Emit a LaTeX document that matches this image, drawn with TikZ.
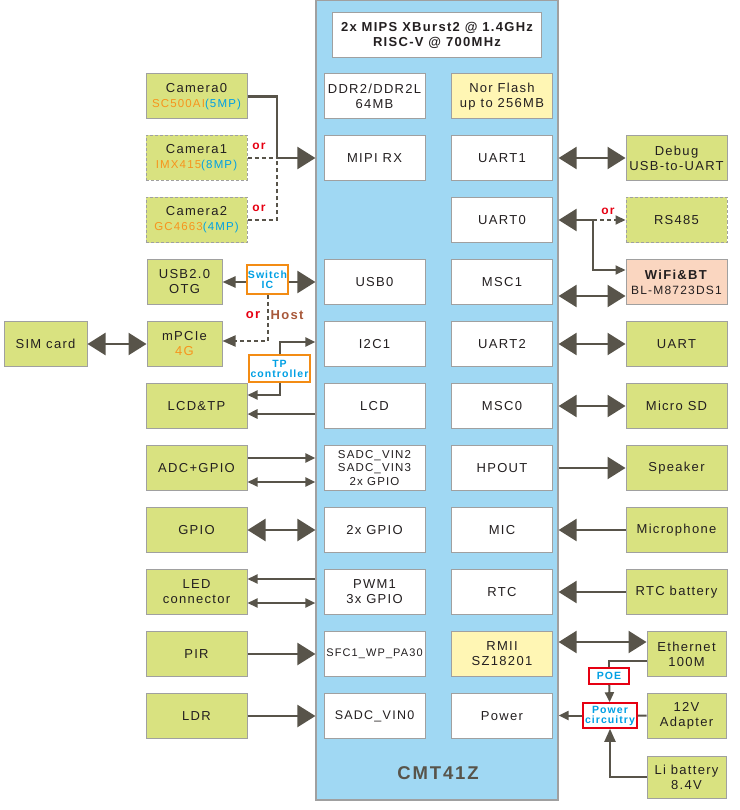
\documentclass[tikz,border=0pt]{standalone}
\usepackage{fontspec}
\setmainfont{Liberation Sans}[LetterSpace=10]
\usetikzlibrary{arrows.meta}

\definecolor{socblue}{RGB}{160,216,243}
\definecolor{boxgreen}{RGB}{217,226,128}
\definecolor{boxline}{RGB}{160,160,160}
\definecolor{flashyellow}{RGB}{255,246,180}
\definecolor{wifipeach}{RGB}{250,214,192}
\definecolor{wireg}{RGB}{88,84,74}
\definecolor{txtdark}{RGB}{35,31,32}
\definecolor{txtorange}{RGB}{247,148,29}
\definecolor{txtblue}{RGB}{0,160,228}
\definecolor{orred}{RGB}{230,0,18}
\definecolor{hostbrown}{RGB}{168,88,58}
\definecolor{tagorange}{RGB}{243,140,20}

\newcommand{\sensor}[2]{{\fontsize{11.5}{14}\selectfont\color{txtorange}#1\color{txtblue}(#2)}}

\tikzset{
  Fat/.tip={Triangle[length=18pt,width=22pt]},
  Mid/.tip={Triangle[length=13pt,width=11pt]},
  Slim/.tip={Triangle[length=10pt,width=9pt]},
  soc/.style={draw=boxline, line width=1.2, fill=socblue, minimum width=242, minimum height=800, inner sep=0},
  block/.style={draw=boxline, line width=1, fill=white, text=txtdark, minimum width=101, minimum height=45, inner sep=0, align=center},
  periph/.style={block, fill=boxgreen},
  maybe/.style={periph, dash pattern=on 3pt off 2pt},
  tagbox/.style={draw=tagorange, line width=1.6, fill=white, text=txtblue, inner sep=0, align=center, font=\fontsize{10.5}{10}\selectfont\bfseries},
  redbox/.style={tagbox, draw=orred},
  orlabel/.style={text=orred, font=\fontsize{12}{12}\selectfont\bfseries},
  wire/.style={draw=wireg, line width=2.4},
  wiretwo/.style={draw=wireg, line width=2},
  dashline/.style={draw=wireg, line width=2, dash pattern=on 4pt off 3pt}
}

\begin{document}
\begin{tikzpicture}[x=1pt, y=-1pt, font=\fontsize{13}{15}\selectfont]
    \useasboundingbox (0,0) rectangle (739,810);

    % SoC
    \node[soc] (cpu) at (437,400) {};
    \node[block, minimum width=209, font=\fontsize{13}{15}\selectfont\bfseries] (cores) at (437,35.5) {2x MIPS XBurst2 @ 1.4GHz\\RISC-V @ 700MHz};
    \node[block] (ddr) at (374.5,96.5) {DDR2/DDR2L\\64MB};
    \node[block, fill=flashyellow] (nor) at (502,96.5) {Nor Flash\\up to 256MB};
    \node[block] (mipi) at (374.5,158) {MIPI RX};
    \node[block] (uart1) at (502,158) {UART1};
    \node[block] (uart0) at (502,220) {UART0};
    \node[block] (usb0) at (374.5,282) {USB0};
    \node[block] (msc1) at (502,282) {MSC1};
    \node[block] (i2c1) at (374.5,344) {I2C1};
    \node[block] (uart2) at (502,344) {UART2};
    \node[block] (lcd) at (374.5,406) {LCD};
    \node[block] (msc0) at (502,406) {MSC0};
    \node[block, font=\fontsize{11.5}{13.5}\selectfont] (sadc) at (374.5,468) {SADC\_VIN2\\SADC\_VIN3\\2x GPIO};
    \node[block] (hpout) at (502,468) {HPOUT};
    \node[block] (gpiotwo) at (374.5,530) {2x GPIO};
    \node[block] (mic) at (502,530) {MIC};
    \node[block] (pwm) at (374.5,592) {PWM1\\3x GPIO};
    \node[block] (rtc) at (502,592) {RTC};
    \node[block, font=\fontsize{11}{13}\selectfont] (sfc) at (374.5,654) {SFC1\_WP\_PA30};
    \node[block, fill=flashyellow] (rmii) at (502,654) {RMII\\SZ18201};
    \node[block, font=\fontsize{12.5}{15}\selectfont] (vin0) at (374.5,716) {SADC\_VIN0};
    \node[block] (power) at (502,716) {Power};
    \node[text=wireg, font=\fontsize{18.5}{20}\selectfont\bfseries] (chipname) at (438,773) {CMT41Z};

    % Left side
    \node[periph] (cam0) at (196.5,96.5) {Camera0\\\sensor{SC500AI}{5MP}};
    \node[maybe] (cam1) at (196.5,158) {Camera1\\\sensor{IMX415}{8MP}};
    \node[maybe] (cam2) at (196.5,220) {Camera2\\\sensor{GC4663}{4MP}};
    \node[periph, minimum width=75] (otg) at (184.5,282) {USB2.0\\OTG};
    \node[periph, minimum width=75] (mpcie) at (184.5,344) {mPCIe\\{\color{txtorange}4G}};
    \node[periph, minimum width=83] (sim) at (45.5,344) {SIM card};
    \node[periph] (lcdtp) at (196.5,406) {LCD\&TP};
    \node[periph] (adc) at (196.5,468) {ADC+GPIO};
    \node[periph] (gpio) at (196.5,530) {GPIO};
    \node[periph] (led) at (196.5,592) {LED\\connector};
    \node[periph] (pir) at (196.5,654) {PIR};
    \node[periph] (ldr) at (196.5,716) {LDR};

    \node[tagbox, minimum width=41, minimum height=29] (switchic) at (267.5,279.5) {Switch\\IC};
    \node[tagbox, minimum width=61, minimum height=27] (tpc) at (279.5,368.5) {TP\\controller};

    % Right side
    \node[periph] (debug) at (676.5,158) {Debug\\USB-to-UART};
    \node[maybe] (rs485) at (676.5,220) {RS485};
    \node[periph, fill=wifipeach] (wifi) at (676.5,282) {\textbf{WiFi\&BT}\\{\fontsize{12}{14}\selectfont BL-M8723DS1}};
    \node[periph] (uart) at (676.5,344) {UART};
    \node[periph] (sd) at (676.5,406) {Micro SD};
    \node[periph] (spk) at (676.5,468) {Speaker};
    \node[periph] (micp) at (676.5,530) {Microphone};
    \node[periph] (rtcb) at (676.5,592) {RTC battery};
    \node[periph, minimum width=79] (eth) at (686.5,654) {Ethernet\\100M};
    \node[periph, minimum width=79] (adapter) at (686.5,716) {12V\\Adapter};
    \node[periph, minimum width=79, minimum height=42] (libat) at (686.5,777) {Li battery\\8.4V};

    \node[redbox, minimum width=40, minimum height=16] (poe) at (609,676) {POE};
    \node[redbox, minimum width=54, minimum height=25] (pwrc) at (610,715.5) {Power\\circuitry};

    % Cameras
    \coordinate (camjoin) at (277,158);
    \draw[wire, -Fat] (cam0.east) -| (camjoin) -- (mipi -| cpu.west);
    \draw[dashline] (cam1.east) -- (camjoin);
    \draw[dashline] (cam2.east) -| (camjoin);
    \node[orlabel] (orone) at (259,146) {or};
    \node[orlabel] (ortwo) at (259,208) {or};

    % USB and mPCIe
    \draw[wire, -Mid] (switchic.west |- otg.east) -- (otg.east);
    \draw[wire, -Fat] (switchic.east |- usb0) -- (usb0 -| cpu.west);
    \coordinate (hostin) at ([yshift=3pt]mpcie.east);
    \draw[dashline, -Mid] (switchic.south) |- (hostin);
    \node[orlabel, font=\fontsize{13}{13}\selectfont\bfseries] (orhost) at (253,315) {or};
    \node[text=hostbrown, font=\fontsize{13}{13}\selectfont\bfseries] (host) at (287,315) {Host};
    \draw[wire, Fat-Fat] (sim) -- (mpcie);

    % Touch panel and LCD
    \draw[wiretwo, -Slim] (tpc.north) |- ([yshift=2pt]i2c1 -| cpu.west);
    \coordinate (tpout) at ([yshift=11pt]lcdtp.east);
    \draw[wiretwo, -Slim] (tpc.south) |- (tpout);
    \coordinate (lcdin) at ([yshift=-8pt]lcdtp.east);
    \draw[wire, -Slim] (lcdin -| cpu.west) -- (lcdin);

    % ADC, GPIO, LED
    \coordinate (adcone) at ([yshift=10pt]adc.east);
    \coordinate (adctwo) at ([yshift=-14pt]adc.east);
    \draw[wiretwo, -Slim] (adcone) -- (adcone -| cpu.west);
    \draw[wiretwo, Slim-Slim] (adctwo) -- (adctwo -| cpu.west);
    \draw[wire, Fat-Fat] (gpio) -- (gpio -| cpu.west);
    \coordinate (ledone) at ([yshift=13pt]led.east);
    \coordinate (ledtwo) at ([yshift=-11pt]led.east);
    \draw[wiretwo, -Slim] (ledone -| cpu.west) -- (ledone);
    \draw[wiretwo, Slim-Slim] (ledtwo) -- (ledtwo -| cpu.west);

    % PIR, LDR
    \draw[wire, -Fat] (pir) -- (pir -| cpu.west);
    \draw[wire, -Fat] (ldr) -- (ldr -| cpu.west);

    % Debug, RS485, WiFi
    \draw[wire, Fat-Fat] (uart1 -| cpu.east) -- (debug);
    \coordinate (rsjoin) at (593,220);
    \draw[wire, Fat-] (uart0 -| cpu.east) -- (rsjoin);
    \draw[dashline, -Slim] (rsjoin) -- (rs485);
    \node[orlabel] (orthree) at (608,211) {or};
    \coordinate (wifiin) at ([yshift=12pt]wifi.west);
    \draw[wiretwo, -Slim] (rsjoin) |- (wifiin);
    \coordinate (wifisd) at ([yshift=-14pt]wifi.west);
    \draw[wire, Fat-Fat] (wifisd -| cpu.east) -- (wifisd);

    % UART, SD, audio, RTC
    \draw[wire, Fat-Fat] (uart2 -| cpu.east) -- (uart);
    \draw[wire, Fat-Fat] (msc0 -| cpu.east) -- (sd);
    \draw[wire, -Fat] (hpout -| cpu.east) -- (spk);
    \draw[wire, -Fat] (micp) -- (mic -| cpu.east);
    \draw[wire, -Fat] (rtcb) -- (rtc -| cpu.east);

    % Ethernet and power
    \coordinate (ethone) at ([yshift=12pt]eth.west);
    \draw[wire, Fat-Fat] (ethone -| cpu.east) -- (ethone);
    \draw[wiretwo] ([yshift=-7pt]eth.west) -| (poe.north);
    \draw[wiretwo, -Slim] (poe) -- (pwrc);
    \draw[wiretwo] (adapter) -- (pwrc);
    \draw[wiretwo, -Slim] (pwrc) -- (pwrc -| cpu.east);
    \draw[wiretwo, -Mid] (libat) -| (pwrc);
\end{tikzpicture}
\end{document}
